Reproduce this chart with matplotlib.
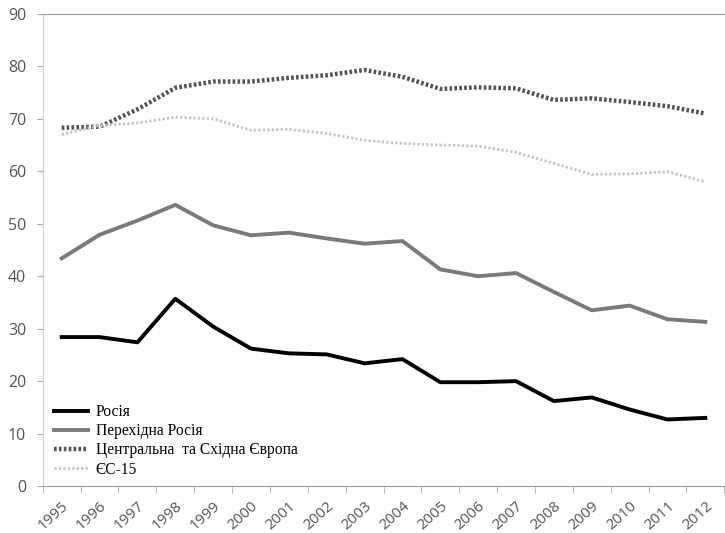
import numpy as np
import matplotlib
matplotlib.use("Agg")
import matplotlib.pyplot as plt

years = [str(y) for y in range(1995, 2013)]

russia = [28.4, 28.4, 27.4, 35.7, 30.4, 26.2, 25.3, 25.1, 23.4, 24.2,
          19.8, 19.8, 20.0, 16.2, 16.9, 14.6, 12.7, 13.0]
transit_russia = [43.4, 47.9, 50.6, 53.6, 49.7, 47.8, 48.3, 47.2, 46.2, 46.7,
                  41.3, 40.0, 40.6, 37.0, 33.5, 34.4, 31.8, 31.3]
cee = [68.3, 68.5, 71.8, 75.9, 77.1, 77.1, 77.8, 78.3, 79.3, 78.0,
       75.7, 76.0, 75.8, 73.6, 73.9, 73.2, 72.4, 71.0]
eu15 = [67.0, 68.7, 69.2, 70.3, 70.0, 67.8, 68.0, 67.2, 65.9, 65.3,
        65.0, 64.8, 63.6, 61.5, 59.4, 59.5, 59.9, 58.0]

labels = ["Росія", "Перехідна Росія", "Центральна  та Східна Європа", "ЄС-15"]

fig = plt.figure(figsize=(7.25, 5.33), dpi=100)
ax = fig.add_axes([0.059, 0.088, 0.94, 0.886])

x = np.arange(len(years))
ax.plot(x, russia, color="black", lw=2.8, label=labels[0])
ax.plot(x, transit_russia, color="#7a7a7a", lw=2.8, label=labels[1])
ax.plot(x, cee, color="#555555", lw=3.2, ls=(0, (0.6, 0.5)), label=labels[2])
ax.plot(x, eu15, color="#c4c4c4", lw=2, ls=(0, (0.8, 0.8)), label=labels[3])

ax.set_xlim(-0.5, len(years) - 0.5)
ax.set_ylim(0, 90)
ax.set_yticks(range(0, 91, 10))

ax.set_xticks(x)
ax.set_xticklabels(years, rotation=42, ha="right", rotation_mode="anchor",
                   fontfamily="Open Sans", fontsize=11, color="#555555")
ax.set_xticks(np.arange(-0.5, len(years)), minor=True)
ax.tick_params(axis="x", which="major", length=0, pad=9)
ax.tick_params(axis="x", which="minor", length=5, color="#aaaaaa")
ax.tick_params(axis="y", length=4, color="#aaaaaa", labelcolor="#555555",
               labelsize=11.5, pad=8)
for t in ax.get_yticklabels():
    t.set_fontfamily("Open Sans")

ax.spines["right"].set_visible(False)
ax.spines["left"].set_color("#cccccc")
ax.spines["bottom"].set_color("#999999")
ax.spines["top"].set_color("#999999")

leg = ax.legend(loc="lower left", bbox_to_anchor=(0.0, -0.005), frameon=False,
                prop={"family": "Liberation Serif", "size": 11.2},
                handlelength=2.2, labelspacing=0.2, handletextpad=0.5,
                borderaxespad=0.3)

fig.savefig("out.png", dpi=100)
